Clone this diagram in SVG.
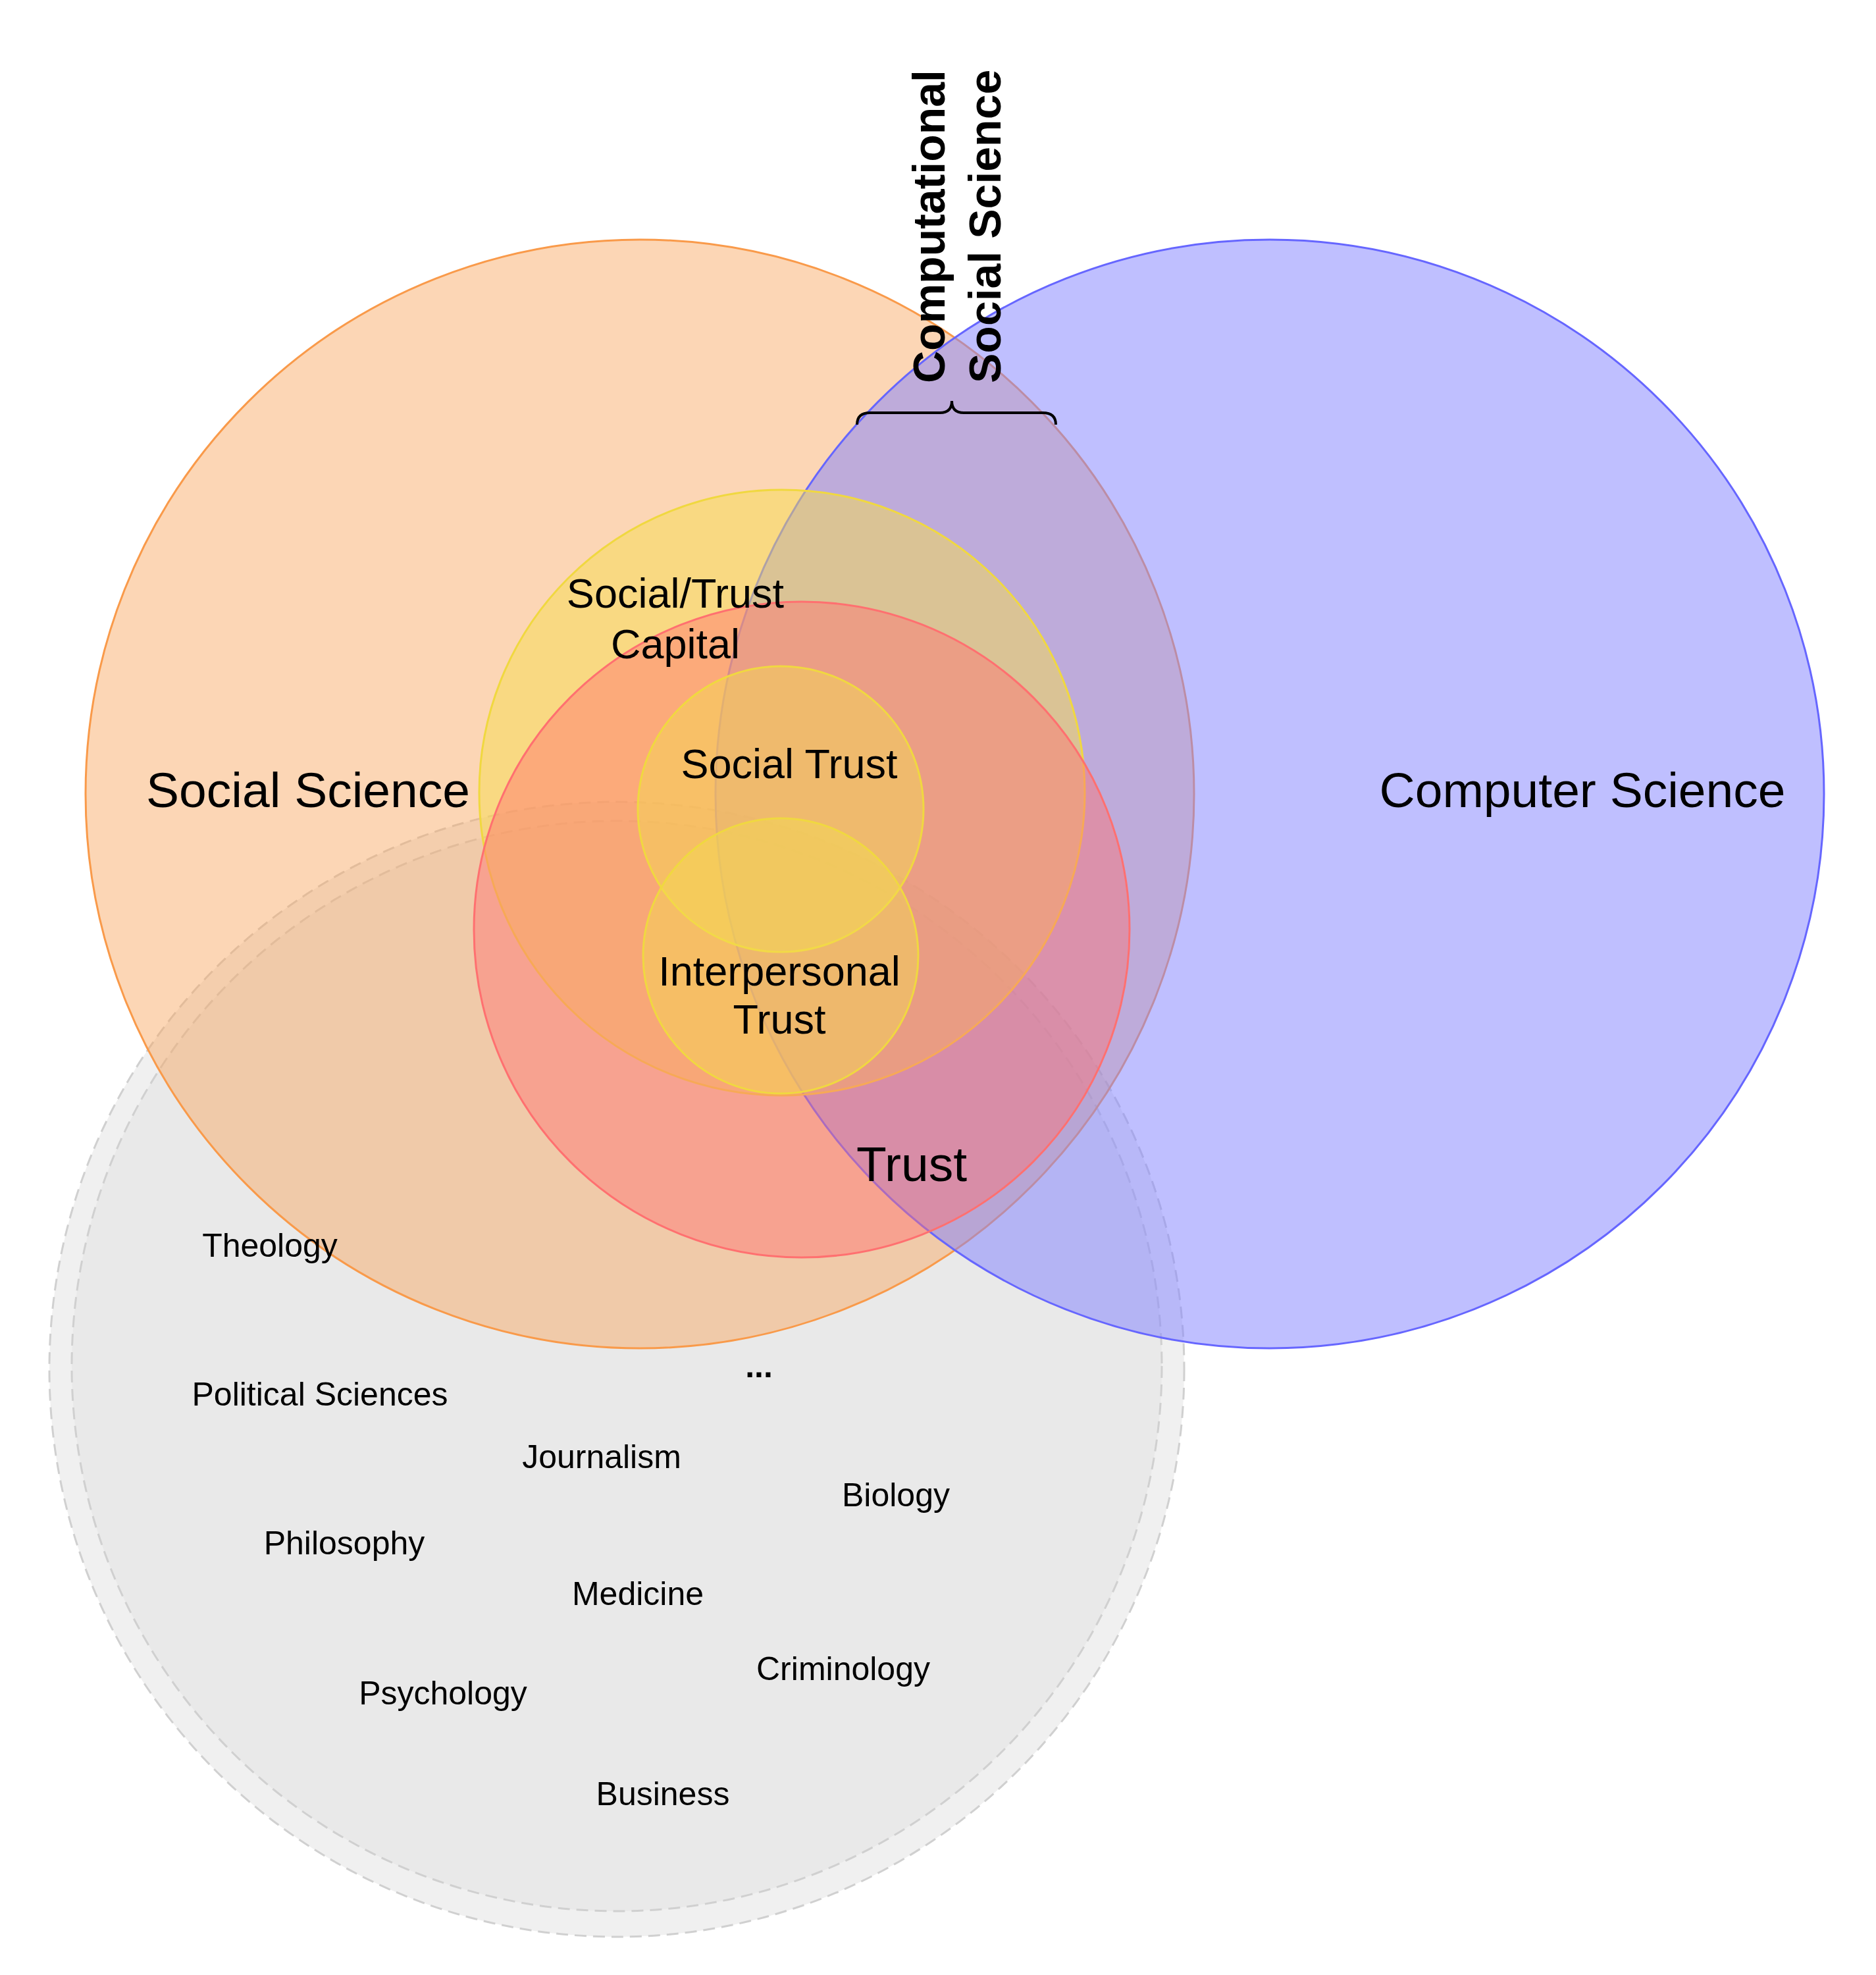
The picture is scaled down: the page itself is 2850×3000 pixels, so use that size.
<svg xmlns="http://www.w3.org/2000/svg" width="2850" height="3000" viewBox="0 0 2850 3000">
<style>
text{font-family:"Liberation Sans",Arial,sans-serif;fill:#000;text-anchor:middle;dominant-baseline:central}
.big{font-size:75px}.mid{font-size:63px}.sm{font-size:50px}
.grey{fill:#e4e4e4;fill-opacity:0.55;stroke:#d0d0d0;stroke-width:3;stroke-dasharray:18 10}
</style>
<rect width="2850" height="3000" fill="#fff"/>
<g id="other-fields"><circle class="grey" cx="937" cy="2080" r="862"/><circle class="grey" cx="937" cy="2075" r="828"/></g>
<g id="social-science"><circle cx="972" cy="1206" r="842" fill="#f9a35a" fill-opacity="0.45" stroke="#f99a4a" stroke-width="3"/></g>
<g id="computer-science"><circle cx="1929" cy="1206" r="842" fill="#7f80ff" fill-opacity="0.5" stroke="#6666ff" stroke-width="3"/></g>
<g id="capital"><circle cx="1188" cy="1204" r="460" fill="#f5dc50" fill-opacity="0.5" stroke="#f0d840" stroke-width="3"/></g>
<g id="trust"><circle cx="1218" cy="1412" r="498" fill="#ff7070" fill-opacity="0.45" stroke="#ff7070" stroke-width="3"/></g>
<g id="social-trust"><circle cx="1186" cy="1229" r="217" fill="#f5dc50" fill-opacity="0.45" stroke="#f0d840" stroke-width="3"/></g>
<g id="interpersonal"><circle cx="1186" cy="1452" r="209" fill="#f5dc50" fill-opacity="0.45" stroke="#f0d840" stroke-width="3"/></g>
<g id="connectors"><path d="M1302 645 Q1302 627 1322 627 L1428 627 Q1446 627 1446 609 Q1446 627 1464 627 L1584 627 Q1604 627 1604 645" fill="none" stroke="#000" stroke-width="4"/></g>
<g id="labels">
<text class="big" x="468" y="1200">Social Science</text>
<text class="big" x="2404" y="1200">Computer Science</text>
<text class="big" x="1385" y="1768">Trust</text>
<text class="mid" x="1026" y="901">Social/Trust</text>
<text class="mid" x="1026" y="978">Capital</text>
<text class="mid" x="1199" y="1160">Social Trust</text>
<text class="mid" x="1184" y="1475">Interpersonal</text>
<text class="mid" x="1184" y="1548">Trust</text>
<text class="sm" x="410" y="1892">Theology</text>
<text class="sm" x="486" y="2118">Political Sciences</text>
<text class="sm" x="914" y="2213">Journalism</text>
<text class="sm" x="1361" y="2271">Biology</text>
<text class="sm" x="523" y="2344">Philosophy</text>
<text class="sm" x="969" y="2421">Medicine</text>
<text class="sm" x="673" y="2572">Psychology</text>
<text class="sm" x="1281" y="2535">Criminology</text>
<text class="sm" x="1007" y="2725">Business</text>
<text class="sm" x="1153" y="2075" font-weight="bold">...</text>
<text font-size="68" font-weight="bold" style="text-anchor:start;dominant-baseline:alphabetic" transform="translate(1435 582) rotate(-90)">Computational</text>
<text font-size="68" font-weight="bold" style="text-anchor:start;dominant-baseline:alphabetic" transform="translate(1520 582) rotate(-90)">Social Science</text>
</g>
</svg>
